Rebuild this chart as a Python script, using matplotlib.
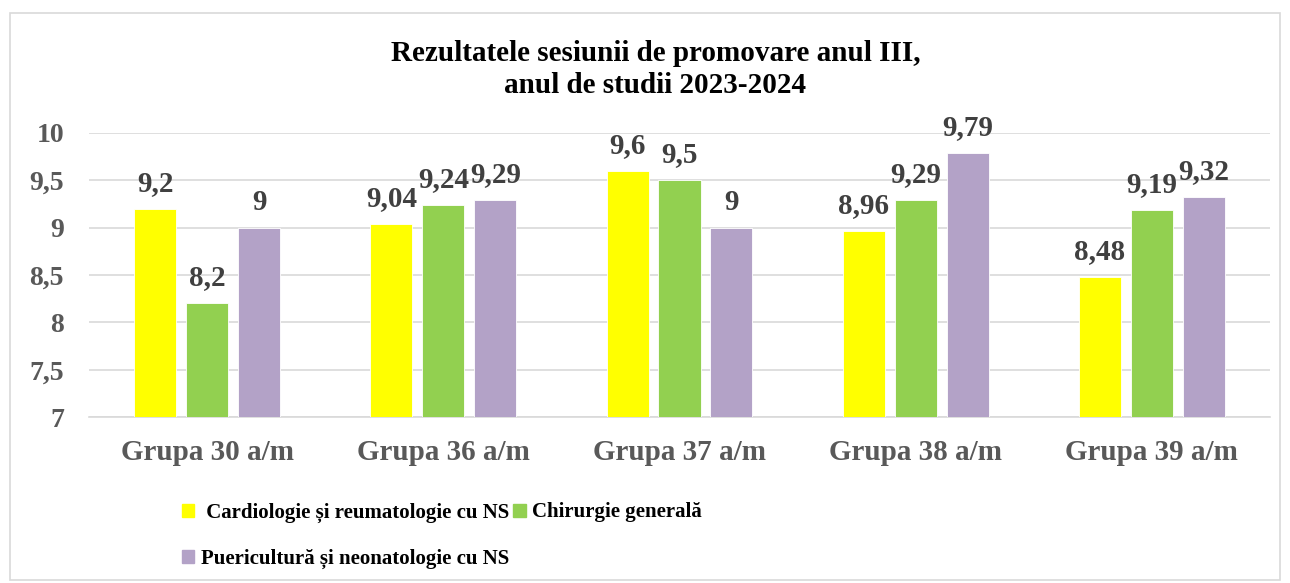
import matplotlib.pyplot as plt
import numpy as np
from matplotlib.patches import Rectangle

plt.rcParams['font.family'] = ['Liberation Serif', 'DejaVu Serif']

groups = ['Grupa 30 a/m', 'Grupa 36 a/m', 'Grupa 37 a/m', 'Grupa 38 a/m', 'Grupa 39 a/m']
cardio = [9.2, 9.04, 9.6, 8.96, 8.48]
chirurgie = [8.2, 9.24, 9.5, 9.29, 9.19]
puericultura = [9, 9.29, 9, 9.79, 9.32]
series_names = [' Cardiologie și reumatologie cu NS', 'Chirurgie generală',
                'Puericultură și neonatologie cu NS']
colors = ['#FFFF00', '#92D050', '#B3A2C7']
yticks = [7, 7.5, 8, 8.5, 9, 9.5, 10]

def fmt(v):
    return f"{v:g}".replace('.', ',')

fig = plt.figure(figsize=(12.9, 5.83), dpi=100)
ax = fig.add_axes([0.069, 0.2847, 0.9155, 0.4872])

x = np.arange(len(groups))
w = 0.178
step = 0.22
for i, (vals, c) in enumerate(zip([cardio, chirurgie, puericultura], colors)):
    ax.bar(x + (i - 1) * step, [v - 7 for v in vals], width=w, bottom=7,
           color=c, edgecolor='white', linewidth=0.6, zorder=3)
    for xi, v in zip(x + (i - 1) * step, vals):
        ax.annotate(fmt(v), (xi, v), xytext=(0, 13), textcoords='offset points',
                    ha='center', va='baseline', fontsize=21, fontweight='bold',
                    color='#404040', zorder=4)

ax.set_xlim(-0.5, len(groups) - 0.5)
ax.set_ylim(7, 10)
ax.set_yticks(yticks)
ax.set_yticklabels([fmt(t) for t in yticks])
ax.set_xticks(x)
ax.set_xticklabels(groups)
ax.tick_params(axis='y', length=0, pad=18, labelsize=20, labelcolor='#595959')
ax.tick_params(axis='x', length=0, pad=16, labelsize=21, labelcolor='#595959')
for lab in ax.get_xticklabels() + ax.get_yticklabels():
    lab.set_fontweight('bold')
ax.grid(axis='y', color='#D9D9D9', linewidth=1.2, zorder=0)
for s in ['top', 'right', 'left']:
    ax.spines[s].set_visible(False)
ax.spines['bottom'].set_color('#D9D9D9')
ax.spines['bottom'].set_linewidth(1.2)

fig.text(0.508, 0.840, 'Rezultatele sesiunii de promovare anul III,\nanul de studii 2023-2024',
         ha='center', va='baseline', fontsize=21, fontweight='bold', linespacing=1.27)

# row-major order like the original legend
order = [0, 2, 1]
handles = [Rectangle((0, 0), 1, 1, color=colors[k]) for k in order]
labels = [series_names[k] for k in order]
fig.legend(handles, labels, ncol=2, loc='upper left', bbox_to_anchor=(0.133, 0.156),
           frameon=False, prop={'size': 15, 'weight': 'bold'},
           handlelength=0.6, handleheight=0.6, handletextpad=0.3,
           columnspacing=0.2, labelspacing=1.27, borderpad=0)

fig.patches.append(Rectangle((10 / 1290, 3 / 583), 1270 / 1290, 567 / 583,
                             transform=fig.transFigure, fill=False,
                             edgecolor='#D9D9D9', linewidth=1.2))

fig.savefig('out.png', dpi=100)
